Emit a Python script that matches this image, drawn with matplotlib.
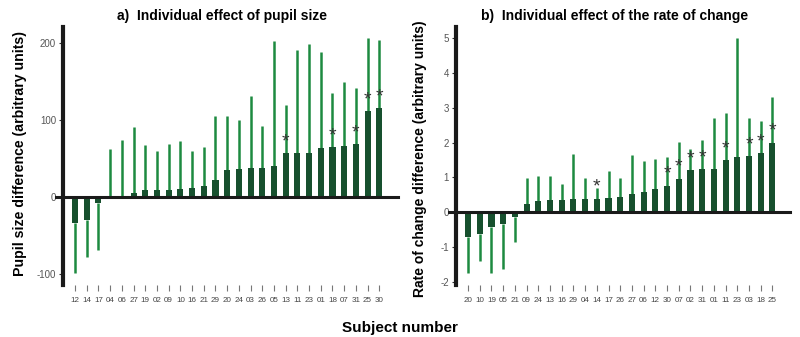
#!/usr/bin/env python3
"""Individual effects of pupil size and rate of change per subject."""
import matplotlib
matplotlib.use("Agg")
import matplotlib.pyplot as plt
import numpy as np

plt.rcParams["font.family"] = ["Liberation Sans", "DejaVu Sans"]

# panel a: pupil size
subjects_a = ["12", "14", "17", "04", "06", "27", "19", "02", "09", "10", "16", "21",
              "29", "20", "24", "03", "26", "05", "13", "11", "23", "01", "18", "07",
              "31", "25", "30"]
effect_a = [-34, -29, -8, 1, 2, 5, 9, 9, 9.5, 11, 12, 15,
            22, 35, 37, 38, 38.5, 41, 57, 57, 57.5, 64, 65, 66,
            69, 112, 116]
extreme_a = [-98, -77, -69, 63, 74, 91, 67.5, 60, 69, 73.5, 60, 65,
             105, 105, 100, 131.5, 92.5, 202.5, 120, 191, 198.5, 188.5, 135.5, 149,
             142, 207, 204]
signif_a = ["13", "18", "31", "25", "30"]

# panel b: rate of change
subjects_b = ["20", "10", "19", "05", "21", "09", "24", "13", "16", "29", "04", "14",
              "17", "26", "27", "06", "12", "30", "07", "02", "31", "01", "11", "23",
              "03", "18", "25"]
effect_b = [-0.71, -0.63, -0.42, -0.34, -0.15, 0.23, 0.33, 0.36, 0.36, 0.37, 0.38, 0.39,
            0.40, 0.44, 0.52, 0.59, 0.67, 0.76, 0.96, 1.20, 1.23, 1.25, 1.50, 1.60,
            1.61, 1.69, 2.00]
extreme_b = [-1.75, -1.40, -1.75, -1.65, -0.85, 0.98, 1.05, 1.03, 0.82, 1.66, 0.99, 0.70,
             1.17, 0.97, 1.63, 1.48, 1.52, 1.59, 2.02, 1.82, 2.09, 2.70, 2.84, 5.00,
             2.71, 2.63, 3.31]
signif_b = ["14", "30", "07", "02", "31", "11", "03", "18", "25"]

BAR_COLOR = "#17502e"
WHISKER_COLOR = "#1d8a40"
STAR_COLOR = "#333333"


def draw_panel(ax, subjects, effect, extreme, signif, ylim, yticks, xlim):
    x = np.arange(len(subjects))
    ax.vlines(x, effect, extreme, color=WHISKER_COLOR, lw=1.8, zorder=2)
    ax.bar(x, effect, width=0.52, color=BAR_COLOR, zorder=3)
    for xi, s, v in zip(x, subjects, effect):
        if s in signif:
            ax.annotate("*", (xi, v), xytext=(0, 2), textcoords="offset points",
                        ha="center", va="bottom", fontsize=14, color=STAR_COLOR,
                        zorder=4)
    ax.axhline(0, xmin=-0.02, xmax=1.0, color="#1a1a1a", lw=2.2, clip_on=False,
               zorder=5)
    ax.set_xlim(*xlim)
    ax.set_ylim(*ylim)
    ax.set_yticks(yticks)
    ax.set_yticklabels([str(t) for t in yticks])
    ax.set_xticks(x)
    ax.set_xticklabels(subjects)
    for side in ("top", "right", "bottom"):
        ax.spines[side].set_visible(False)
    ax.spines["left"].set_linewidth(3)
    ax.spines["left"].set_color("#1a1a1a")
    ax.tick_params(axis="y", length=3, width=0.8, color="#333333",
                   labelsize=7, labelcolor="#555555", pad=2)
    ax.tick_params(axis="x", length=4, width=0.8, color="#777777",
                   labelsize=5.8, labelcolor="#444444", pad=5)


fig = plt.figure(figsize=(8, 3.37), dpi=100)
ax_a = fig.add_axes([63 / 800, 1 - 285 / 337, 335 / 800, 258 / 337])
ax_b = fig.add_axes([456 / 800, 1 - 285 / 337, 334 / 800, 258 / 337])

draw_panel(ax_a, subjects_a, effect_a, extreme_a, signif_a,
           (-114, 221), [-100, 0, 100, 200], (-1.03, 27.6))
draw_panel(ax_b, subjects_b, effect_b, extreme_b, signif_b,
           (-2.1, 5.33), [-2, -1, 0, 1, 2, 3, 4, 5], (-1.03, 27.5))

fig.text(222 / 800, 1 - 16 / 337, "a)  Individual effect of pupil size",
         ha="center", va="center", fontsize=10, fontweight="bold")
fig.text(615 / 800, 1 - 16 / 337, "b)  Individual effect of the rate of change",
         ha="center", va="center", fontsize=10, fontweight="bold")
fig.text(20 / 800, 1 - 154 / 337, "Pupil size difference (arbitrary units)",
         rotation=90, ha="center", va="center", fontsize=10.2, fontweight="bold")
fig.text(420 / 800, 1 - 159 / 337, "Rate of change difference (arbitrary units)",
         rotation=90, ha="center", va="center", fontsize=10, fontweight="bold")
fig.text(0.5, 1 - 328 / 337, "Subject number", ha="center", va="center",
         fontsize=11, fontweight="bold")

fig.savefig("out.png", dpi=100)
